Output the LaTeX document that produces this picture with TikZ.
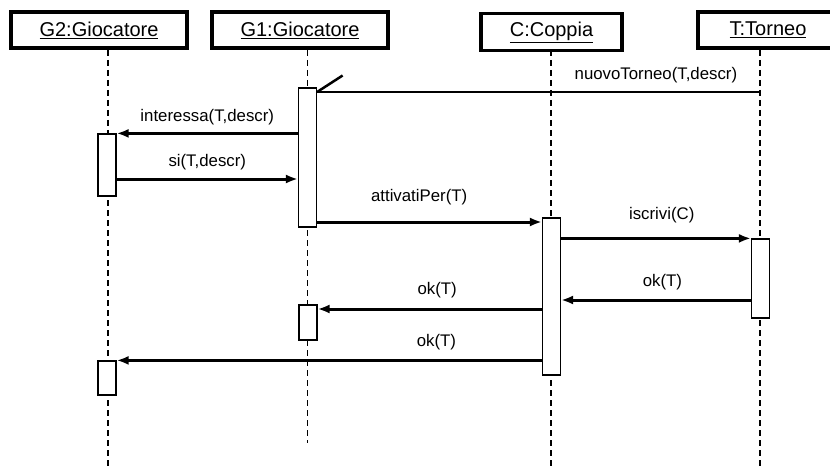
\documentclass[tikz,border=0pt]{standalone}
\usepackage{fontspec}
\setmainfont{Liberation Sans}
\usetikzlibrary{arrows.meta,positioning}

\begin{document}
\begin{tikzpicture}[
    x=1pt, y=-1pt,
    obj/.style={draw, line width=3.5pt, fill=white, minimum height=36pt, inner sep=0pt, font=\fontsize{20}{24}\selectfont},
    life/.style={line width=1.2pt, dash pattern=on 6pt off 4pt},
    act/.style={draw, fill=white, line width=1.2pt, minimum width=18pt, inner sep=0pt},
    msg/.style={line width=3pt, -{Latex[length=12pt,width=9pt]}},
    lbl/.style={font=\fontsize{16.8}{20}\selectfont, inner sep=0pt}
]
\useasboundingbox (0,0) rectangle (830,468);

% lifeline ends
\coordinate (g2e) at (108,468);
\coordinate (g1e) at (307.5,443);
\coordinate (ce) at (551,468);
\coordinate (te) at (760,468);

% message levels
\coordinate (y0) at (0,92);
\coordinate (y2) at (0,179);
\coordinate (y3) at (0,222);
\coordinate (y5) at (0,300);
\coordinate (y6) at (0,309);

\draw[life] (g2e |- 0,30) -- (g2e);
\draw[life] (g1e |- 0,30) -- (g1e);
\draw[life] (ce |- 0,30) -- (ce);
\draw[life] (te |- 0,30) -- (te);

\node[obj, minimum width=176pt] (g2) at (99,30) {\underline{G2:Giocatore}};
\node[obj, minimum width=176pt] (g1) at (300,30) {\underline{G1:Giocatore}};
\node[obj, minimum width=141pt, minimum height=37pt] (c) at (551.5,32) {\underline{C:Coppia}};
\node[obj, minimum width=140pt] (t) at (768,30) {\underline{T:Torneo}};

% activations
\node[act, minimum height=139pt] (g1a1) at (307.5,157.5) {};
\node[act, minimum height=62pt] (g2a1) at (107,165) {};
\node[act, minimum height=157pt] (ca1) at (551.5,296.5) {};
\node[act, minimum height=79pt] (ta1) at (760.5,278.5) {};
\node[act, minimum height=35pt] (g1a2) at (308,322.5) {};
\node[act, minimum height=34pt] (g2a2) at (107,378) {};

% messages
\draw[line width=1.5pt] (te |- y0) -- node[lbl, pos=0.235, above=8.5pt] {nuovoTorneo(T,descr)} (g1a1.east |- y0);
\draw[line width=2.5pt] (g1a1.east |- y0) -- ++(25.5,-16.5);
\draw[msg] (g1a1.west |- g2a1.north) -- node[lbl, above=6.5pt] {interessa(T,descr)} (g2a1.north east);
\draw[msg] (g2a1.east |- y2) -- node[lbl, above=7.5pt] {si(T,descr)} (g1a1.west |- y2);
\draw[msg] (g1a1.east |- y3) -- node[lbl, pos=0.454, above=15.5pt] {attivatiPer(T)} (ca1.west |- y3);
\draw[msg] (ca1.east |- ta1.north) -- node[lbl, pos=0.53, above=13.5pt] {iscrivi(C)} (ta1.north west);
\draw[msg] (ta1.west |- y5) -- node[lbl, pos=0.466, above=8.5pt] {ok(T)} (ca1.east |- y5);
\draw[msg] (ca1.west |- y6) -- node[lbl, pos=0.467, above=9.5pt] {ok(T)} (g1a2.east |- y6);
\draw[msg] (ca1.west |- g2a2.north) -- node[lbl, pos=0.248, above=8.5pt] {ok(T)} (g2a2.north east);
\end{tikzpicture}
\end{document}
